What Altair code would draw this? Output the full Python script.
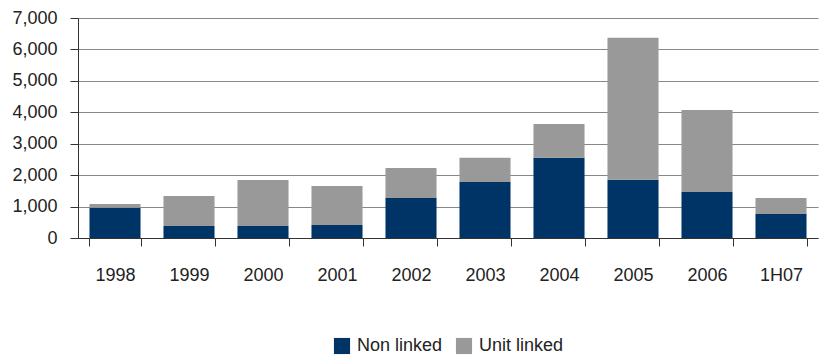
import altair as alt
import pandas as pd

# Annual new business by product type
years = ["1998", "1999", "2000", "2001", "2002", "2003", "2004", "2005", "2006", "1H07"]
non_linked = [965, 380, 380, 415, 1275, 1785, 2550, 1850, 1465, 765]
unit_linked = [120, 955, 1465, 1240, 955, 765, 1080, 4520, 2610, 510]

series_names = ["Non linked", "Unit linked"]
series_colors = ["#003366", "#999999"]

rows = []
for i, y in enumerate(years):
    rows.append({"year": y, "series": series_names[0], "value": non_linked[i], "rank": 0})
    rows.append({"year": y, "series": series_names[1], "value": unit_linked[i], "rank": 1})
df = pd.DataFrame(rows)

FONT = "Liberation Sans Narrow, Liberation Sans, sans-serif"

chart = (
    alt.Chart(df)
    .mark_bar()
    .encode(
        x=alt.X(
            "year:N",
            sort=years,
            title=None,
            scale=alt.Scale(paddingInner=0.31, paddingOuter=0.155),
            axis=alt.Axis(
                labelAngle=0,
                tickBand="extent",
                tickSize=8,
                tickColor="#333333",
                domainColor="#333333",
                labelPadding=20,
                labelFontSize=18,
                labelFont=FONT,
                labelColor="#222222",
                grid=False,
            ),
        ),
        y=alt.Y(
            "value:Q",
            title=None,
            stack="zero",
            scale=alt.Scale(domain=[0, 7000], nice=False),
            axis=alt.Axis(
                values=[0, 1000, 2000, 3000, 4000, 5000, 6000, 7000],
                format=",.0f",
                tickSize=8,
                tickColor="#333333",
                domainColor="#333333",
                gridColor="#888888",
                gridWidth=1,
                labelPadding=13,
                labelFontSize=18,
                labelFont=FONT,
                labelColor="#222222",
            ),
        ),
        color=alt.Color(
            "series:N",
            scale=alt.Scale(domain=series_names, range=series_colors),
            legend=alt.Legend(
                title=None,
                orient="none",
                direction="horizontal",
                legendX=255,
                legendY=319,
                symbolType="square",
                symbolSize=260,
                symbolStrokeWidth=0,
                labelFontSize=18,
                labelFont=FONT,
                labelColor="#222222",
                columnPadding=12,
                labelOffset=6,
            ),
        ),
        order=alt.Order("rank:Q"),
    )
    .properties(
        width=740,
        height=220,
        autosize=alt.AutoSizeParams(type="none"),
        padding={"left": 78, "top": 18, "right": 6, "bottom": 120},
    )
    .configure_view(stroke=None)
)

chart.save("out.html", embed_options={"renderer": "svg", "actions": False})
